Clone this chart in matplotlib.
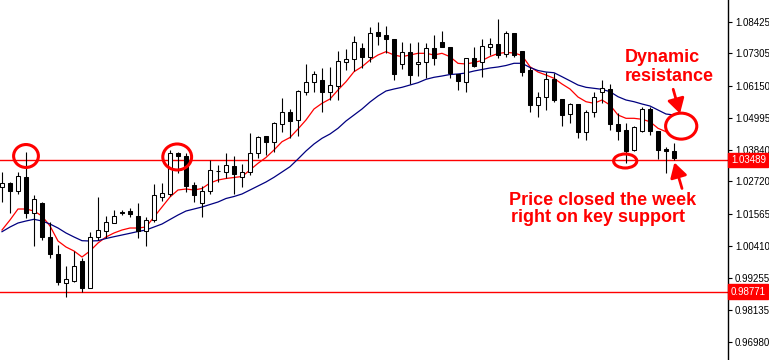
import matplotlib
matplotlib.use("Agg")
import matplotlib.pyplot as plt
from matplotlib.patches import Ellipse, FancyArrowPatch

# ---------------- data ----------------
opens = [
    1.02533, 1.02676, 1.02391, 1.02870, 1.01603, 1.01940, 1.00752, 1.00127, 0.99078, 0.99171,
    0.99876, 0.98920, 1.00745, 1.00960, 1.01246, 1.01618, 1.01675, 1.01503, 1.00949, 1.01332,
    1.02155, 1.02255, 1.03740, 1.03632, 1.02594, 1.01961, 1.02380, 1.03095, 1.03077, 1.03274,
    1.02870, 1.03070, 1.03729, 1.04347, 1.04143, 1.04770, 1.05188, 1.04909, 1.05932, 1.06268,
    1.06350, 1.05932, 1.06146, 1.07005, 1.07091, 1.07484, 1.07162, 1.08056, 1.07960, 1.07806,
    1.06923, 1.07352, 1.06923, 1.06995, 1.07484, 1.07699, 1.07521, 1.06554, 1.06289, 1.07127,
    1.07005, 1.07521, 1.07639, 1.07270, 1.08020, 1.07388, 1.06708, 1.05456, 1.05753, 1.06375,
    1.05660, 1.05123, 1.05492, 1.04501, 1.05216, 1.05911, 1.06018, 1.04766, 1.04562, 1.03847,
    1.04537, 1.05302, 1.04537, 1.03872, 1.03793]
highs = [
    1.03059, 1.02712, 1.03059, 1.03786, 1.02219, 1.01997, 1.01271, 1.00448, 0.99697, 1.00245,
    0.99973, 1.00924, 1.02155, 1.01485, 1.01700, 1.01700, 1.01772, 1.01961, 1.01460, 1.02641,
    1.02655, 1.03847, 1.03786, 1.03729, 1.02712, 1.02576, 1.03489, 1.03310, 1.03750, 1.03632,
    1.03346, 1.04455, 1.04347, 1.04365, 1.04859, 1.05696, 1.05302, 1.05975, 1.06923, 1.06672,
    1.06790, 1.06826, 1.07388, 1.07460, 1.07925, 1.07685, 1.08235, 1.08414, 1.08293, 1.07817,
    1.07721, 1.07663, 1.07721, 1.07685, 1.07960, 1.08114, 1.07532, 1.06565, 1.07137, 1.07521,
    1.07806, 1.07842, 1.08522, 1.08103, 1.08042, 1.07388, 1.06805, 1.05932, 1.06647, 1.06590,
    1.05660, 1.05517, 1.05503, 1.05277, 1.05932, 1.06350, 1.06207, 1.05159, 1.04802, 1.04690,
    1.05395, 1.05395, 1.04537, 1.03965, 1.04107]
lows = [
    1.01986, 1.01582, 1.02273, 1.01432, 1.00412, 1.00627, 0.99984, 0.99017, 0.98578, 0.99135,
    0.98778, 0.98899, 1.00627, 1.00688, 1.01225, 1.01521, 1.01460, 1.00699, 1.00412, 1.01282,
    1.02022, 1.02201, 1.03013, 1.02344, 1.01969, 1.01439, 1.02273, 1.02701, 1.02845, 1.02273,
    1.02512, 1.02952, 1.03550, 1.03668, 1.03786, 1.04501, 1.04258, 1.04358, 1.05814, 1.05932,
    1.05216, 1.05635, 1.05635, 1.06708, 1.06683, 1.06769, 1.07005, 1.07603, 1.07327, 1.06350,
    1.06733, 1.06207, 1.06493, 1.06411, 1.06887, 1.07514, 1.06411, 1.05993, 1.05932, 1.06826,
    1.06468, 1.07245, 1.07127, 1.07184, 1.07184, 1.06493, 1.05216, 1.05038, 1.05277, 1.05574,
    1.04705, 1.04802, 1.04265, 1.04204, 1.05038, 1.05517, 1.04562, 1.04204, 1.03371, 1.03822,
    1.04501, 1.04383, 1.03514, 1.03013, 1.03489]
closes = [
    1.02676, 1.02391, 1.02916, 1.01603, 1.02105, 1.00717, 1.00116, 0.99135, 0.99221, 0.99697,
    0.98920, 1.00745, 1.00985, 1.01261, 1.01485, 1.01610, 1.01557, 1.00949, 1.01343, 1.02226,
    1.02298, 1.03729, 1.03632, 1.02558, 1.02219, 1.02380, 1.03131, 1.03088, 1.03310, 1.02988,
    1.03077, 1.03729, 1.04311, 1.04143, 1.04802, 1.05188, 1.04895, 1.05957, 1.06268, 1.06565,
    1.05932, 1.06171, 1.07030, 1.07091, 1.07721, 1.07184, 1.08020, 1.07935, 1.07806, 1.06554,
    1.07352, 1.06529, 1.06995, 1.07484, 1.07127, 1.07521, 1.06590, 1.06325, 1.07127, 1.06862,
    1.07567, 1.07628, 1.07245, 1.08020, 1.07245, 1.06647, 1.05456, 1.05753, 1.06375, 1.05635,
    1.05098, 1.05481, 1.04473, 1.05216, 1.05753, 1.06054, 1.04777, 1.04537, 1.03822, 1.04680,
    1.05302, 1.04537, 1.03847, 1.03811, 1.03550]

ma_fast = [
    1.00985, 1.01343, 1.01736, 1.01736, 1.01664, 1.01485, 1.01128, 1.00591, 1.00377, 1.00234,
    1.00019, 1.00234, 1.00520, 1.00735, 1.00878, 1.00985, 1.01056, 1.01056, 1.01092, 1.01450,
    1.01807, 1.02165, 1.02416, 1.02451, 1.02416, 1.02469, 1.02666, 1.02773, 1.02827, 1.02863,
    1.02898, 1.03131, 1.03371, 1.03579, 1.03847, 1.04143, 1.04294, 1.04598, 1.04920, 1.05313,
    1.05517, 1.05671, 1.05993, 1.06289, 1.06647, 1.06826, 1.07066, 1.07245, 1.07364, 1.07245,
    1.07184, 1.07245, 1.07305, 1.07305, 1.07245, 1.07305, 1.07184, 1.06946, 1.06923, 1.06977,
    1.07048, 1.07191, 1.07299, 1.07335, 1.07317, 1.07227, 1.06826, 1.06636, 1.06529, 1.06411,
    1.06207, 1.06028, 1.05742, 1.05574, 1.05517, 1.05635, 1.05456, 1.05098, 1.04980, 1.04980,
    1.04945, 1.04859, 1.04623, 1.04501]
ma_slow = [
    1.00924, 1.01092, 1.01235, 1.01307, 1.01368, 1.01307, 1.01199, 1.01056, 1.00878, 1.00735,
    1.00602, 1.00591, 1.00602, 1.00681, 1.00745, 1.00806, 1.00867, 1.00931, 1.00985, 1.01092,
    1.01199, 1.01361, 1.01521, 1.01664, 1.01736, 1.01807, 1.01897, 1.01986, 1.02112, 1.02183,
    1.02273, 1.02416, 1.02559, 1.02702, 1.02870, 1.03059, 1.03249, 1.03525, 1.03811, 1.04061,
    1.04265, 1.04419, 1.04623, 1.04884, 1.05098, 1.05313, 1.05563, 1.05778, 1.05957, 1.06028,
    1.06089, 1.06171, 1.06254, 1.06375, 1.06447, 1.06493, 1.06547, 1.06565, 1.06601, 1.06672,
    1.06726, 1.06780, 1.06816, 1.06869, 1.06948, 1.06948, 1.06798, 1.06690, 1.06636, 1.06611,
    1.06468, 1.06321, 1.06171, 1.06089, 1.06053, 1.06017, 1.05932, 1.05753, 1.05635, 1.05574,
    1.05492, 1.05420, 1.05277, 1.05134, 1.05098]

support_level = 1.03489
low_level = 0.98771
ytick_labels = ["1.08425", "1.07305", "1.06150", "1.04995", "1.03840", "1.02720",
                "1.01565", "1.00410", "0.99255", "0.98135", "0.96980"]

# ---------------- figure ----------------
W, H = 769, 360
fig = plt.figure(figsize=(W / 100, H / 100), dpi=100)
fig.patch.set_facecolor("white")
ax = fig.add_axes([0, 0, 728 / W, 1])
ax.set_xlim(-0.25, 90.75)
ax.set_ylim(0.963348, 1.09212)

idx = list(range(len(opens)))

# wicks
ax.vlines(idx, lows, highs, color="black", linewidth=0.8, zorder=3)
# bodies
bottoms = [min(o, c) for o, c in zip(opens, closes)]
heights = [max(abs(c - o), 0.00002) for o, c in zip(opens, closes)]
colors = ["white" if c > o else "black" for o, c in zip(opens, closes)]
ax.bar(idx, heights, bottom=bottoms, width=0.62, color=colors,
       edgecolor="black", linewidth=0.75, zorder=4)

# moving averages
ax.plot(range(len(ma_fast)), ma_fast, color="#ff0000", linewidth=0.9, zorder=2)
ax.plot(range(len(ma_slow)), ma_slow, color="#000080", linewidth=0.9, zorder=2)

# horizontal levels
ax.axhline(support_level, color="#ff0000", linewidth=1.0, zorder=1)
ax.axhline(low_level, color="#ff0000", linewidth=1.0, zorder=1)

# axes styling
for s in ["left", "top", "bottom"]:
    ax.spines[s].set_visible(False)
ax.spines["right"].set_linewidth(1.0)
ax.set_xticks([])
ax.yaxis.tick_right()
ax.set_yticks([float(t) for t in ytick_labels])
ax.set_yticklabels(ytick_labels)
ax.tick_params(axis="y", direction="out", length=3, width=0.8, pad=2,
               labelsize=7, labelcolor="black")
for lab in ax.get_yticklabels():
    lab.set_fontfamily("Liberation Sans")

# price labels on axis
for lvl, txt in [(support_level, "1.03489"), (low_level, "0.98771")]:
    ax.text(1.004, lvl, txt, transform=ax.get_yaxis_transform(), color="white",
            fontsize=7, family="Liberation Sans", va="center", ha="left",
            clip_on=False, zorder=10,
            bbox=dict(boxstyle="square,pad=0.25", facecolor="#ff0000",
                      edgecolor="#ff0000"))

# annotation circles
red = "#ff0000"
for (cx, cy, w, h) in [(3.0, 1.03632, 3.1, 0.0082),
                       (21.9, 1.03597, 3.6, 0.0093),
                       (77.9, 1.03453, 2.9, 0.0050),
                       (84.9, 1.04700, 3.9, 0.0093)]:
    ax.add_patch(Ellipse((cx, cy), w, h, fill=False, edgecolor=red,
                         linewidth=2.2, zorder=6, clip_on=False))

# arrows
for tail, head in [((83.9, 1.06019), (84.75, 1.05150)),
                   ((85.0, 1.02470), (84.05, 1.03400))]:
    ax.add_patch(FancyArrowPatch(tail, head,
                                 arrowstyle="-|>,head_length=0.55,head_width=0.32",
                                 mutation_scale=16, color=red, linewidth=2.0,
                                 zorder=7, shrinkA=0, shrinkB=0))

# annotation texts
tkw = dict(color=red, fontsize=13, fontweight="bold", family="Liberation Sans",
           ha="left", va="baseline", zorder=8)
ax.text(77.9, 1.06995, "Dynamic", **tkw)
ax.text(77.9, 1.06315, "resistance", **tkw)
ax.text(63.4, 1.01879, "Price closed the week", **tkw)
ax.text(63.6, 1.01271, "right on key support", **tkw)

fig.savefig("out.png", dpi=100, facecolor="white")
